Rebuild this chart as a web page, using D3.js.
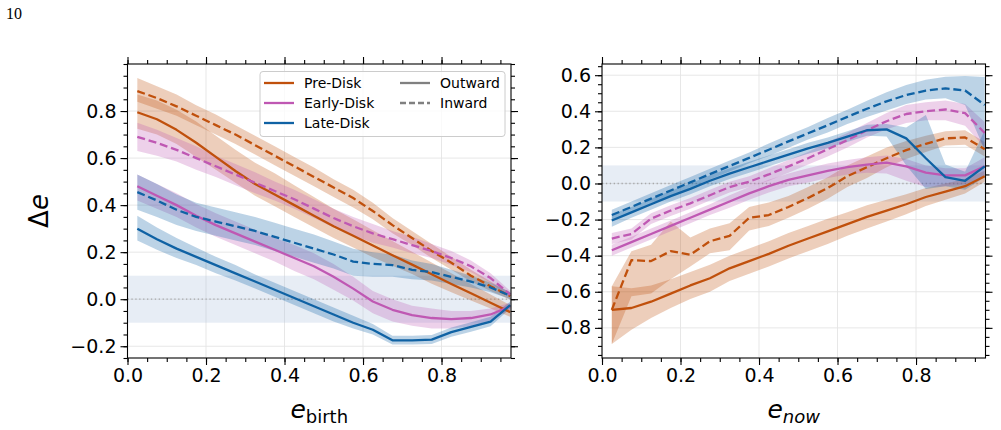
<!DOCTYPE html>
<html><head><meta charset="utf-8">
<script src="https://cdn.jsdelivr.net/npm/d3@7"></script>
<style>body{margin:0;background:#fff} svg{display:block} text{font-family:"DejaVu Sans",sans-serif;fill:#000}</style>
</head><body><svg id="c" width="1001" height="430"></svg>
<script>
// ---------------- data ----------------
const eBins = [0.025,0.075,0.125,0.175,0.225,0.275,0.325,0.375,0.425,0.475,0.525,0.575,0.625,0.675,0.725,0.775,0.825,0.875,0.925,0.975];
const populations = ["Pre-Disk","Early-Disk","Late-Disk"];
const directions = ["Outward","Inward"];
const xTicks = [0.0,0.2,0.4,0.6,0.8];
const yTicksBirth = [-0.2,0.0,0.2,0.4,0.6,0.8];
const yTicksNow = [-0.8,-0.6,-0.4,-0.2,0.0,0.2,0.4,0.6];

// left panel: delta e vs e_birth
const birthPreOut   = [0.795,0.765,0.72,0.665,0.605,0.545,0.49,0.445,0.40,0.355,0.31,0.27,0.228,0.187,0.147,0.106,0.065,0.025,-0.015,-0.055];
const birthPreOutUp = [0.075,0.08,0.085,0.09,0.09,0.09,0.09,0.09,0.085,0.08,0.075,0.07,0.065,0.06,0.055,0.05,0.045,0.04,0.035,0.03];
const birthPreOutDn = [0.07,0.065,0.06,0.06,0.055,0.05,0.05,0.05,0.05,0.05,0.05,0.05,0.05,0.045,0.04,0.04,0.035,0.03,0.025,0.02];
const birthPreIn    = [0.885,0.855,0.82,0.78,0.74,0.70,0.655,0.61,0.565,0.52,0.475,0.43,0.375,0.315,0.26,0.205,0.155,0.10,0.055,0.013];
const birthPreInUp  = [0.055,0.05,0.05,0.045,0.045,0.04,0.04,0.04,0.04,0.04,0.035,0.035,0.035,0.03,0.03,0.03,0.025,0.025,0.02,0.015];
const birthPreInDn  = [0.045,0.045,0.04,0.04,0.04,0.04,0.04,0.04,0.04,0.04,0.04,0.04,0.035,0.035,0.03,0.03,0.03,0.025,0.02,0.015];
const birthEarlyOut   = [0.48,0.44,0.40,0.355,0.315,0.28,0.245,0.21,0.175,0.14,0.095,0.045,-0.01,-0.045,-0.068,-0.08,-0.085,-0.08,-0.065,-0.03];
const birthEarlyOutUp = [0.05,0.05,0.05,0.05,0.05,0.05,0.05,0.05,0.055,0.055,0.055,0.05,0.045,0.045,0.04,0.04,0.035,0.03,0.025,0.015];
const birthEarlyOutDn = [0.06,0.055,0.05,0.05,0.05,0.05,0.05,0.05,0.055,0.055,0.055,0.05,0.05,0.05,0.045,0.045,0.04,0.035,0.025,0.015];
const birthEarlyIn    = [0.69,0.665,0.635,0.60,0.565,0.53,0.495,0.46,0.425,0.385,0.345,0.31,0.28,0.255,0.23,0.205,0.175,0.14,0.09,0.02];
const birthEarlyInUp  = [0.06,0.055,0.05,0.05,0.045,0.045,0.045,0.04,0.04,0.04,0.04,0.04,0.04,0.035,0.035,0.03,0.03,0.025,0.02,0.015];
const birthEarlyInDn  = [0.06,0.055,0.05,0.05,0.045,0.045,0.045,0.04,0.04,0.04,0.04,0.04,0.04,0.035,0.035,0.03,0.03,0.025,0.02,0.015];
const birthLateOut   = [0.30,0.255,0.215,0.18,0.145,0.11,0.075,0.04,0.005,-0.03,-0.065,-0.10,-0.13,-0.175,-0.175,-0.172,-0.14,-0.118,-0.095,-0.025];
const birthLateOutUp = [0.055,0.05,0.045,0.04,0.035,0.035,0.03,0.03,0.03,0.03,0.03,0.03,0.025,0.02,0.02,0.02,0.02,0.02,0.02,0.015];
const birthLateOutDn = [0.05,0.045,0.04,0.035,0.035,0.03,0.03,0.03,0.03,0.03,0.03,0.025,0.02,0.018,0.018,0.018,0.02,0.02,0.02,0.015];
const birthLateIn    = [0.455,0.42,0.38,0.35,0.33,0.31,0.29,0.265,0.24,0.215,0.19,0.16,0.15,0.145,0.125,0.115,0.095,0.075,0.05,0.015];
const birthLateInUp  = [0.075,0.07,0.065,0.06,0.06,0.06,0.06,0.06,0.06,0.06,0.055,0.055,0.05,0.045,0.04,0.035,0.03,0.025,0.02,0.015];
const birthLateInDn  = [0.075,0.07,0.065,0.06,0.06,0.06,0.06,0.06,0.06,0.06,0.06,0.06,0.055,0.05,0.04,0.035,0.03,0.025,0.02,0.015];

// right panel: delta e vs e_now
const nowPreOut   = [-0.70,-0.69,-0.655,-0.61,-0.565,-0.525,-0.47,-0.43,-0.39,-0.345,-0.305,-0.265,-0.225,-0.185,-0.15,-0.115,-0.075,-0.045,-0.015,0.04];
const nowPreOutUp = [0.13,0.11,0.09,0.08,0.075,0.075,0.07,0.07,0.07,0.07,0.07,0.07,0.065,0.065,0.06,0.055,0.05,0.045,0.04,0.03];
const nowPreOutDn = [0.19,0.12,0.09,0.08,0.075,0.075,0.07,0.07,0.07,0.07,0.07,0.07,0.065,0.065,0.06,0.055,0.05,0.045,0.04,0.03];
const nowPreIn    = [-0.70,-0.425,-0.43,-0.375,-0.395,-0.32,-0.29,-0.19,-0.175,-0.13,-0.08,-0.025,0.04,0.09,0.14,0.185,0.22,0.25,0.255,0.19];
const nowPreInUp  = [0.13,0.05,0.09,0.165,0.095,0.07,0.07,0.06,0.07,0.06,0.06,0.06,0.06,0.06,0.06,0.05,0.045,0.04,0.04,0.04];
const nowPreInDn  = [0.19,0.2,0.18,0.155,0.065,0.067,0.08,0.07,0.06,0.06,0.06,0.06,0.06,0.06,0.05,0.05,0.045,0.04,0.04,0.04];
const nowEarlyOut   = [-0.37,-0.325,-0.28,-0.235,-0.19,-0.145,-0.10,-0.055,-0.015,0.02,0.045,0.07,0.09,0.105,0.115,0.095,0.06,0.045,0.045,0.095];
const nowEarlyOutUp = [0.03,0.03,0.03,0.03,0.03,0.03,0.035,0.035,0.035,0.035,0.04,0.04,0.04,0.04,0.04,0.04,0.04,0.04,0.04,0.05];
const nowEarlyOutDn = [0.03,0.03,0.03,0.03,0.03,0.03,0.035,0.035,0.035,0.035,0.04,0.04,0.04,0.045,0.06,0.08,0.08,0.06,0.05,0.05];
const nowEarlyIn    = [-0.305,-0.28,-0.195,-0.15,-0.11,-0.065,-0.02,0.01,0.05,0.095,0.14,0.19,0.24,0.295,0.345,0.385,0.40,0.41,0.39,0.28];
const nowEarlyInUp  = [0.03,0.03,0.03,0.03,0.03,0.03,0.03,0.03,0.035,0.035,0.035,0.04,0.04,0.04,0.045,0.05,0.05,0.05,0.05,0.06];
const nowEarlyInDn  = [0.03,0.03,0.03,0.03,0.03,0.03,0.03,0.03,0.035,0.035,0.035,0.04,0.04,0.04,0.045,0.05,0.05,0.06,0.07,0.08];
const nowLateOut   = [-0.205,-0.16,-0.115,-0.07,-0.03,0.015,0.055,0.09,0.125,0.16,0.195,0.225,0.26,0.295,0.30,0.25,0.14,0.035,0.015,0.095];
const nowLateOutUp = [0.035,0.03,0.03,0.03,0.03,0.03,0.03,0.03,0.03,0.03,0.03,0.03,0.03,0.03,0.03,0.06,0.24,0.07,0.05,0.2];
const nowLateOutDn = [0.035,0.03,0.03,0.03,0.03,0.03,0.03,0.03,0.03,0.03,0.03,0.03,0.03,0.03,0.04,0.15,0.17,0.05,0.05,0.06];
const nowLateIn    = [-0.175,-0.13,-0.084,-0.039,0.006,0.052,0.097,0.142,0.187,0.233,0.278,0.323,0.369,0.414,0.455,0.49,0.515,0.527,0.515,0.435];
const nowLateInUp  = [0.03,0.03,0.03,0.03,0.03,0.03,0.03,0.03,0.035,0.035,0.035,0.04,0.04,0.045,0.05,0.055,0.06,0.065,0.08,0.155];
const nowLateInDn  = [0.03,0.03,0.03,0.03,0.03,0.03,0.03,0.03,0.035,0.035,0.035,0.04,0.04,0.045,0.05,0.05,0.05,0.055,0.08,0.25];

// ---------------- styling ----------------
const colors = {"Pre-Disk":"#c0500c","Early-Disk":"#bf58b3","Late-Disk":"#0f62a4"};
const LW = 2.3, DASH = "8,3.8";
const svg = d3.select("#c");

function seriesFor(vals) {
  const out = [];
  populations.forEach((p, i) => {
    const v = vals[i];
    out.push({pop:p, dir:"Outward", y:v[0], up:v[1], dn:v[2]});
    out.push({pop:p, dir:"Inward", y:v[3], up:v[4], dn:v[5]});
  });
  return out;
}

const panels = [
  {x0:127.5, x1:511, y0:64, y1:358, ydom:[-0.25,1.0], yTicks:yTicksBirth,
   series: seriesFor([
     [birthPreOut,birthPreOutUp,birthPreOutDn,birthPreIn,birthPreInUp,birthPreInDn],
     [birthEarlyOut,birthEarlyOutUp,birthEarlyOutDn,birthEarlyIn,birthEarlyInUp,birthEarlyInDn],
     [birthLateOut,birthLateOutUp,birthLateOutDn,birthLateIn,birthLateInUp,birthLateInDn]])},
  {x0:602, x1:985.5, y0:64, y1:358, ydom:[-0.967,0.662], yTicks:yTicksNow,
   series: seriesFor([
     [nowPreOut,nowPreOutUp,nowPreOutDn,nowPreIn,nowPreInUp,nowPreInDn],
     [nowEarlyOut,nowEarlyOutUp,nowEarlyOutDn,nowEarlyIn,nowEarlyInUp,nowEarlyInDn],
     [nowLateOut,nowLateOutUp,nowLateOutDn,nowLateIn,nowLateInUp,nowLateInDn]])}
];

function minorTicks(lo, hi, step) {
  const t = [];
  const start = Math.ceil(lo/step - 1e-9);
  const end = Math.floor(hi/step + 1e-9);
  for (let k = start; k <= end; k++) t.push(+(k*step).toFixed(4));
  return t;
}

panels.forEach((P, pi) => {
  const x = d3.scaleLinear().domain([0, 0.977]).range([P.x0, P.x1]);
  const y = d3.scaleLinear().domain(P.ydom).range([P.y1, P.y0]);
  const g = svg.append("g");
  const clipId = "clip" + pi;
  g.append("clipPath").attr("id", clipId).append("rect")
    .attr("x", P.x0).attr("y", P.y0).attr("width", P.x1 - P.x0).attr("height", P.y1 - P.y0);
  const plot = g.append("g").attr("clip-path", `url(#${clipId})`);

  plot.selectAll(".gx").data(xTicks).join("line")
    .attr("x1", d => x(d)).attr("x2", d => x(d)).attr("y1", P.y0).attr("y2", P.y1)
    .attr("stroke", "#e4e4e4").attr("stroke-width", 0.9);
  plot.selectAll(".gy").data(P.yTicks).join("line")
    .attr("y1", d => y(d)).attr("y2", d => y(d)).attr("x1", P.x0).attr("x2", P.x1)
    .attr("stroke", "#e4e4e4").attr("stroke-width", 0.9);

  plot.append("rect").attr("x", P.x0).attr("width", P.x1 - P.x0)
    .attr("y", y(0.1)).attr("height", y(-0.1) - y(0.1))
    .attr("fill", "#b0c4de").attr("opacity", 0.3);
  plot.append("line").attr("x1", P.x0).attr("x2", P.x1).attr("y1", y(0)).attr("y2", y(0))
    .attr("stroke", "#a8a8a8").attr("stroke-width", 1.3).attr("stroke-dasharray", "1.3,2.6");

  const area = d3.area().x((d, i) => x(eBins[i]))
    .y0(d => y(d.v - d.dn)).y1(d => y(d.v + d.up));
  const line = d3.line().x((d, i) => x(eBins[i])).y(d => y(d));

  P.series.forEach(s => {
    const pts = s.y.map((v, i) => ({v, up:s.up[i], dn:s.dn[i]}));
    plot.append("path").attr("d", area(pts))
      .attr("fill", colors[s.pop]).attr("fill-opacity", 0.28).attr("stroke", "none");
  });
  P.series.forEach(s => {
    plot.append("path").attr("d", line(s.y))
      .attr("fill", "none").attr("stroke", colors[s.pop]).attr("stroke-width", LW)
      .attr("stroke-dasharray", s.dir === "Inward" ? DASH : null)
      .attr("stroke-linejoin", "round");
  });

  const fmt = d3.format(".1f");
  const xMinor = minorTicks(0, 0.977, 0.05);
  const yMinor = minorTicks(P.ydom[0], P.ydom[1], 0.05);
  function styleAxis(sel) {
    sel.select(".domain").remove();
    sel.selectAll(".tick line").attr("stroke", "#000").attr("stroke-width", 1.1);
    sel.selectAll("text").style("font-size", "19px").style("font-family", "DejaVu Sans");
  }
  g.append("g").attr("transform", `translate(0,${P.y1})`)
    .call(d3.axisBottom(x).tickValues(xTicks).tickFormat(fmt).tickSize(7).tickPadding(4)).call(styleAxis);
  g.append("g").attr("transform", `translate(0,${P.y1})`)
    .call(d3.axisBottom(x).tickValues(xMinor).tickFormat("").tickSize(4)).call(styleAxis);
  g.append("g").attr("transform", `translate(0,${P.y0})`)
    .call(d3.axisTop(x).tickValues(xTicks).tickFormat("").tickSize(7)).call(styleAxis);
  g.append("g").attr("transform", `translate(0,${P.y0})`)
    .call(d3.axisTop(x).tickValues(xMinor).tickFormat("").tickSize(4)).call(styleAxis);
  g.append("g").attr("transform", `translate(${P.x0},0)`)
    .call(d3.axisLeft(y).tickValues(P.yTicks).tickFormat(fmt).tickSize(7).tickPadding(4)).call(styleAxis);
  g.append("g").attr("transform", `translate(${P.x0},0)`)
    .call(d3.axisLeft(y).tickValues(yMinor).tickFormat("").tickSize(4)).call(styleAxis);
  g.append("g").attr("transform", `translate(${P.x1},0)`)
    .call(d3.axisRight(y).tickValues(P.yTicks).tickFormat("").tickSize(7)).call(styleAxis);
  g.append("g").attr("transform", `translate(${P.x1},0)`)
    .call(d3.axisRight(y).tickValues(yMinor).tickFormat("").tickSize(4)).call(styleAxis);

  g.append("rect").attr("x", P.x0).attr("y", P.y0).attr("width", P.x1 - P.x0).attr("height", P.y1 - P.y0)
    .attr("fill", "none").attr("stroke", "#000").attr("stroke-width", 1.1);
});

// axis labels
const L = panels[0], R = panels[1];
const xl1 = svg.append("text").attr("x", (L.x0 + L.x1) / 2).attr("y", 418).attr("text-anchor", "middle")
  .style("font-size", "25px");
xl1.append("tspan").style("font-style", "italic").text("e");
xl1.append("tspan").attr("dy", 5).style("font-size", "18px").text("birth");
const xl2 = svg.append("text").attr("x", (R.x0 + R.x1) / 2).attr("y", 418).attr("text-anchor", "middle")
  .style("font-size", "25px");
xl2.append("tspan").style("font-style", "italic").text("e");
xl2.append("tspan").attr("dy", 5).style("font-size", "18px").style("font-style", "italic").text("now");
const yl = svg.append("text").attr("transform", "translate(48,211) rotate(-90)").attr("text-anchor", "middle")
  .style("font-size", "26px");
yl.append("tspan").text("Δ");
yl.append("tspan").style("font-style", "italic").text("e");

svg.append("text").attr("x", 6).attr("y", 19).style("font-family", "'Liberation Serif','DejaVu Serif',serif")
  .style("font-size", "16px").text("10");

// legend
const lg = svg.append("g");
lg.append("rect").attr("x", 260).attr("y", 71.5).attr("width", 245).attr("height", 65).attr("rx", 3)
  .attr("fill", "#fff").attr("fill-opacity", 0.8).attr("stroke", "#cccccc").attr("stroke-width", 1);
populations.forEach((p, i) => {
  const yy = 83 + i * 20;
  lg.append("line").attr("x1", 264).attr("x2", 294).attr("y1", yy).attr("y2", yy)
    .attr("stroke", colors[p]).attr("stroke-width", LW);
  lg.append("text").attr("x", 304).attr("y", yy + 5).style("font-size", "14px").text(p);
});
directions.forEach((d, i) => {
  const yy = 83 + i * 20;
  lg.append("line").attr("x1", 400).attr("x2", 430).attr("y1", yy).attr("y2", yy)
    .attr("stroke", "#808080").attr("stroke-width", LW)
    .attr("stroke-dasharray", d === "Inward" ? "6,3" : null);
  lg.append("text").attr("x", 440).attr("y", yy + 5).style("font-size", "14px").text(d);
});
</script>
</body></html>
